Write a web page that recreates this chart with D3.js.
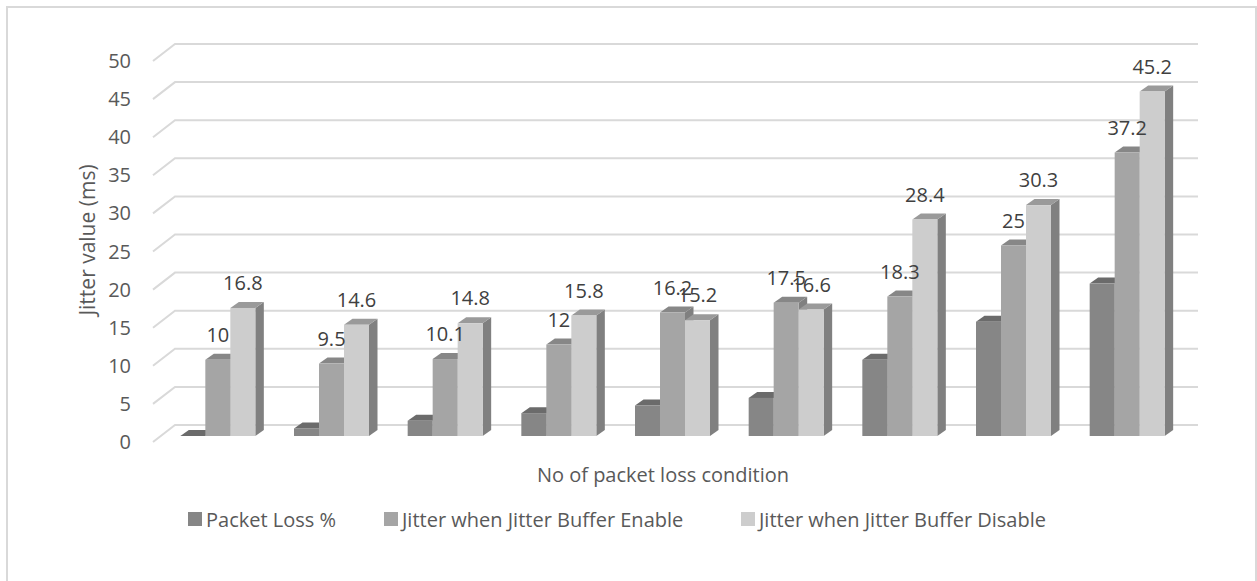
<!DOCTYPE html>
<html>
<head>
<meta charset="utf-8">
<script src="https://cdn.jsdelivr.net/npm/d3@7"></script>
<style>
  body { margin: 0; background: #fff; }
  text { font-family: "Open Sans", "Noto Sans", sans-serif; fill: #595959; }
</style>
</head>
<body>
<div id="chart"></div>
<script>
// Data
var categories = ["1", "2", "3", "4", "5", "6", "7", "8", "9"];
var seriesNames = ["Packet Loss %", "Jitter when Jitter Buffer Enable", "Jitter when Jitter Buffer Disable"];
var packetLoss = [0, 1, 2, 3, 4, 5, 10, 15, 20];
var jitterEnable = [10, 9.5, 10.1, 12, 16.2, 17.5, 18.3, 25, 37.2];
var jitterDisable = [16.8, 14.6, 14.8, 15.8, 15.2, 16.6, 28.4, 30.3, 45.2];
var yTicks = [0, 5, 10, 15, 20, 25, 30, 35, 40, 45, 50];
var showLabel = [false, true, true];

// colours: front, top, side
var fronts = ["#868686", "#a5a5a5", "#cdcdcd"];
var tops = ["#6b6b6b", "#878787", "#9a9a9a"];
var side = "#808080";

const width = 1257;
const height = 581;

var svg = d3.select("#chart")
  .append("svg")
  .attr("width", width)
  .attr("height", height);

// outer border
svg.append("rect")
  .attr("x", 7).attr("y", 7)
  .attr("width", 1249).attr("height", 590)
  .attr("fill", "none")
  .attr("stroke", "#d9d9d9")
  .attr("stroke-width", 2);

// plane of the bar fronts
var x = d3.scaleBand()
  .domain(categories)
  .range([161, 1184]);

var y = d3.scaleLinear()
  .domain([0, 50])
  .range([436, 55]);

var series = [packetLoss, jitterEnable, jitterDisable];
var xs = d3.scaleBand()
  .domain(d3.range(3))
  .range([0, 75]);

// 3d offsets
var wallDx = 14, wallDy = -11;   // bar front -> back wall
var sideDx = -8, sideDy = 6;     // bar front -> front of side wall
var bd = 8.5, bdy = -6;          // bar depth

// gridlines on back wall + side wall
var grid = svg.append("g");
yTicks.forEach(function(t){
  var yy = y(t);
  grid.append("path")
    .attr("d", "M" + (x.range()[0] + sideDx) + "," + (yy + sideDy) +
               "L" + (x.range()[0] + wallDx) + "," + (yy + wallDy) +
               "L" + (x.range()[1] + wallDx) + "," + (yy + wallDy))
    .attr("fill", "none")
    .attr("stroke", "#d9d9d9")
    .attr("stroke-width", 2);
});

// y tick labels
svg.append("g").selectAll("text")
  .data(yTicks)
  .enter().append("text")
  .attr("x", 131)
  .attr("y", function(d){ return y(d) + 6 + 7; })
  .attr("text-anchor", "end")
  .style("font-size", "20px")
  .text(function(d){ return d; });

// bars
var bars = [];
categories.forEach(function(c, i){
  series.forEach(function(s, k){
    bars.push({cat: c, k: k, v: s[i]});
  });
});

var gBars = svg.append("g");
bars.forEach(function(d){
  var x0 = x(d.cat) + (x.bandwidth() - 75) / 2 + xs(d.k);
  var w = xs.bandwidth();
  var y0 = y(0), y1 = y(d.v);
  // side face
  gBars.append("path")
    .attr("d", "M" + (x0 + w) + "," + y1 + "L" + (x0 + w + bd) + "," + (y1 + bdy) +
               "L" + (x0 + w + bd) + "," + (y0 + bdy) + "L" + (x0 + w) + "," + y0 + "Z")
    .attr("fill", side);
  // top face
  gBars.append("path")
    .attr("d", "M" + x0 + "," + y1 + "L" + (x0 + bd) + "," + (y1 + bdy) +
               "L" + (x0 + w + bd) + "," + (y1 + bdy) + "L" + (x0 + w) + "," + y1 + "Z")
    .attr("fill", tops[d.k]);
  // front face
  gBars.append("rect")
    .attr("x", x0).attr("y", y1)
    .attr("width", w).attr("height", y0 - y1)
    .attr("fill", fronts[d.k]);
});

// data labels
gBars.selectAll("text.lbl")
  .data(bars.filter(function(d){ return showLabel[d.k]; }))
  .enter().append("text")
  .attr("class", "lbl")
  .attr("x", function(d){ return x(d.cat) + (x.bandwidth() - 75) / 2 + xs(d.k) + xs.bandwidth() / 2; })
  .attr("y", function(d){ return y(d.v) - 18; })
  .attr("text-anchor", "middle")
  .style("font-size", "20px")
  .style("fill", "#404040")
  .text(function(d){ return d.v; });

// axis titles
svg.append("text")
  .attr("x", 663).attr("y", 482)
  .attr("text-anchor", "middle")
  .style("font-size", "20px")
  .text("No of packet loss condition");

svg.append("text")
  .attr("transform", "translate(95,240) rotate(-90)")
  .attr("text-anchor", "middle")
  .style("font-size", "21px")
  .text("Jitter value (ms)");

// legend
var legendX = [188, 384, 741];
var legend = svg.append("g");
seriesNames.forEach(function(n, k){
  legend.append("rect")
    .attr("x", legendX[k]).attr("y", 512)
    .attr("width", 14).attr("height", 14)
    .attr("fill", fronts[k]);
  legend.append("text")
    .attr("x", legendX[k] + 18).attr("y", 527)
    .style("font-size", "20px")
    .text(n);
});
</script>
</body>
</html>
